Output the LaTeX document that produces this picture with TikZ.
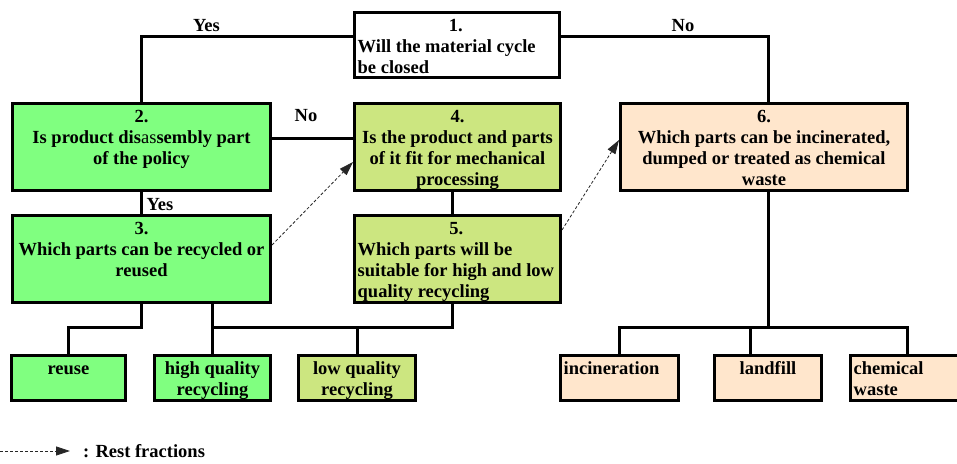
\documentclass[tikz,border=0pt]{standalone}
\usepackage{fontspec}
\setmainfont{Liberation Serif}
\usetikzlibrary{arrows.meta}
\definecolor{boxgreen}{RGB}{128,255,128}
\definecolor{boxolive}{RGB}{204,230,128}
\definecolor{boxpeach}{RGB}{255,230,204}
% fixes the baseline of the first line of a box text
\newcommand\firststrut{\rule{0pt}{20.5pt}}
\begin{document}
\begin{tikzpicture}[x=1pt,y=-1pt,
  every node/.style={font=\bfseries\fontsize{18.5}{21}\selectfont},
  box/.style 2 args={draw, line width=3pt, inner sep=0pt, minimum width=#1, minimum height=#2},
  ctext/.style={anchor=north, inner sep=0pt, align=center},
  ltext/.style={anchor=north west, inner sep=0pt, align=left},
  link/.style={line width=3pt},
  rest/.style={line width=0.8pt, black!85, dash pattern=on 3pt off 2pt,
    -{Triangle[length=14pt,width=9pt]}},
  lbl/.style={anchor=base, inner sep=0pt}]
\useasboundingbox (0,0) rectangle (957,463);

% decision boxes
\node[box={205}{65}, fill=white] (b1) at (457,45) {};
\node[box={258}{87}, fill=boxgreen] (b2) at (141.5,147) {};
\node[box={206}{87}, fill=boxolive] (b4) at (457.5,147) {};
\node[box={287}{87}, fill=boxpeach] (b6) at (764,147) {};
\node[box={258}{87}, fill=boxgreen] (b3) at (141.5,259) {};
\node[box={206}{87}, fill=boxolive] (b5) at (457.5,259) {};

% end results
\node[box={114}{45}, fill=boxgreen] (reuse) at (68.5,378) {};
\node[box={116}{45}, fill=boxgreen] (high) at (212.5,378) {};
\node[box={117}{45}, fill=boxolive] (low) at (357,378) {};
\node[box={118}{45}, fill=boxpeach] (incin) at (619.5,378) {};
\node[box={107}{45}, fill=boxpeach] (landfill) at (768,378) {};
\node[box={112}{45}, fill=boxpeach] (chem) at (906.5,378) {};

% box texts
\node[ltext] (t1) at ([xshift=4.5pt]b1.north west)
  {\firststrut\makebox[196pt]{1.}\\Will the material cycle\\be closed};
\node[ctext] (t2) at (b2.north)
  {\firststrut 2.\\Is product dis\textmd{as}sembly part\\of the policy};
\node[ctext] (t4) at (b4.north)
  {\firststrut 4.\\Is the product and parts\\of it fit for mechanical\\processing};
\node[ctext] (t6) at (b6.north)
  {\firststrut 6.\\Which parts can be incinerated,\\dumped or treated as chemical\\waste};
\node[ctext] (t3) at (b3.north)
  {\firststrut 3.\\Which parts can be recycled or\\reused};
\node[ltext] (t5) at ([xshift=4.5pt]b5.north west)
  {\firststrut\makebox[197pt]{5.}\\Which parts will be\\suitable for high and low\\quality recycling};
\node[ctext] (treuse) at (reuse.north) {\firststrut reuse};
\node[ctext] (thigh) at (high.north) {\firststrut high quality\\recycling};
\node[ctext] (tlow) at (low.north) {\firststrut low quality\\recycling};
\node[ltext] (tincin) at ([xshift=4.5pt]incin.north west) {\firststrut incineration};
\node[ctext] (tlandfill) at (landfill.north) {\firststrut landfill};
\node[ltext] (tchem) at ([xshift=4.5pt]chem.north west) {\firststrut chemical\\waste};

% decision connectors
\coordinate (bus) at (0,327);
\coordinate (chemdrop) at (907,327);
\draw[link] ([yshift=9pt]b1.west) -| (b2.north);
\draw[link] ([yshift=9pt]b1.east) -| ([xshift=4.5pt]b6.north);
\draw[link] ([yshift=9pt]b2.east) -- ([yshift=9pt]b4.west);
\draw[link] (b2.south) -- (b3.north);
\draw[link] ([xshift=-5pt]b4.south) -- ([xshift=-5pt]b5.north);
\draw[link] (b3.south) -- (b3.south |- bus) -| (reuse.north);
\draw[link] (high.north) -- (high.north |- bus) -| ([xshift=-5pt]b5.south);
\draw[link] (high.north |- b3.south) -- (high.north |- bus);
\draw[link] (low.north) -- (low.north |- bus);
\draw[link] ([xshift=4.5pt]b6.south) -- ([xshift=4.5pt]b6.south |- bus);
\draw[link] (incin.north) |- (chemdrop) -- (chemdrop |- chem.north);
\draw[link] ([xshift=-18pt]landfill.north) -- ([xshift=-18pt]landfill.north |- bus);

% branch labels
\node[lbl] (yes1) at (206.5,31.5) {Yes};
\node[lbl] (no1) at (683,31.5) {No};
\node[lbl] (no2) at (306,121.7) {No};
\node[lbl] (yes2) at (160,210.7) {Yes};

% rest fractions
\draw[rest] ([yshift=14pt]b3.east) -- ([yshift=-15pt]b4.west);
\draw[rest] ([yshift=29pt]b5.east) -- ([yshift=7pt]b6.west);

% legend
\coordinate (legstart) at (0,451);
\coordinate (legtip) at (70,451);
\node[anchor=base west, inner sep=0pt] (legend) at (83,457.5) {: Rest fractions};
\draw[rest] (legstart) -- (legtip);
\end{tikzpicture}
\end{document}
